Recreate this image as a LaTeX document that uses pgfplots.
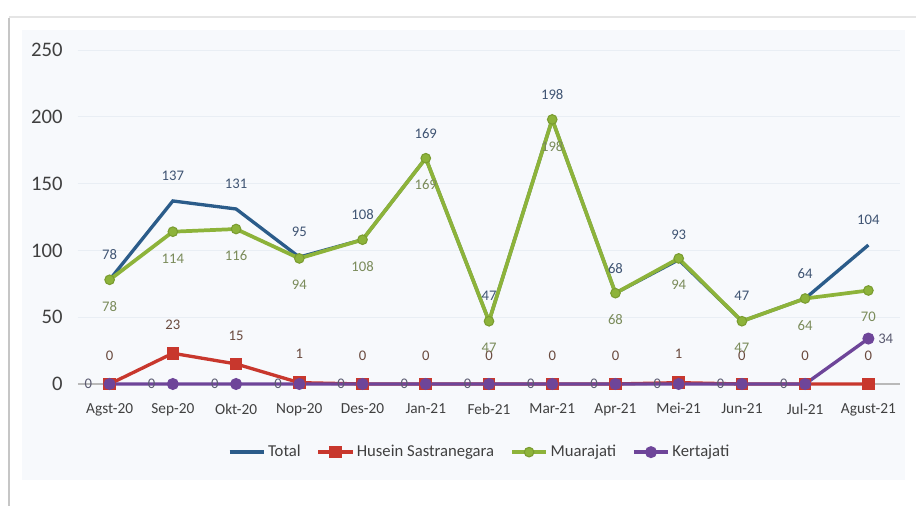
\documentclass[border=0pt]{standalone}
\usepackage{fontspec}
\setmainfont{Carlito}
\usepackage{pgfplots}
\pgfplotsset{compat=1.18}
\definecolor{cTotal}{HTML}{2B5C8A}
\definecolor{cHus}{HTML}{C8372D}
\definecolor{cMua}{HTML}{8DB33A}
\definecolor{cMuaD}{HTML}{7A9C30}
\definecolor{cKer}{HTML}{6E4599}
\definecolor{bgc}{HTML}{F7F9FC}
\definecolor{gridc}{HTML}{E9EEF4}
\definecolor{txt}{HTML}{404040}
\definecolor{lTotal}{HTML}{3F5473}
\definecolor{lHus}{HTML}{6A4A3E}
\definecolor{lMua}{HTML}{7A8B5A}
\definecolor{lKer}{HTML}{5A5A70}
\begin{document}
\begin{tikzpicture}
\path[use as bounding box] (0,0) rectangle (687pt,379.5pt);
\fill[white] (0,0) rectangle (687pt,379.5pt);
\fill[bgc] (16.5pt,19.5pt) rectangle (679pt,357pt);
\draw[gray!45, line width=1pt] (6.75pt,0) -- (6.75pt,366pt);
\draw[gray!20, line width=1.5pt] (6.75pt,367pt) -- (687pt,367pt);
\begin{axis}[
  at={(58.5pt,91.5pt)}, anchor=south west,
  scale only axis, width=616.5pt, height=250.5pt,
  xmin=-0.5, xmax=12.5, ymin=0, ymax=250,
  xtick={0,...,12},
  xticklabels={Agst-20,Sep-20,Okt-20,Nop-20,Des-20,Jan-21,Feb-21,Mar-21,Apr-21,Mei-21,Jun-21,Jul-21,Agust-21},
  ytick={0,50,...,250},
  axis line style={draw=none}, tick style={draw=none},
  ymajorgrids, grid style={color=gridc, line width=0.6pt},
  extra y ticks={0}, extra y tick labels={},
  extra y tick style={grid=major, grid style={color=gray!55, line width=0.8pt}},
  clip=false,
  /pgf/number format/assume math mode=true,
  xticklabel style={font=\fontsize{11.5}{12}\selectfont, color=txt, yshift=-11pt},
  yticklabel style={font=\fontsize{15.5}{16}\selectfont, color=txt, xshift=-8pt},
  legend columns=4,
  legend style={at={(0.489,-0.204)}, anchor=center, draw=none, fill=none,
    font=\fontsize{12.5}{14}\selectfont, text=txt,
    /tikz/every even column/.append style={column sep=10pt}},
  legend image code/.code={\draw[mark repeat=2,mark phase=2,#1] plot coordinates {(0cm,0cm) (0.45cm,0cm) (0.9cm,0cm)};},
  nodes near coords,
  nodes near coords style={font=\fontsize{11}{12}\selectfont, anchor=center},
]
% Total
\addplot[color=cTotal, line width=2.5pt, no markers,
  every node near coord/.append style={color=lTotal, yshift=18.75pt}]
  coordinates {(0,78) (1,137) (2,131) (3,95) (4,108) (5,169) (6,47) (7,198) (8,68) (9,93) (10,47) (11,64) (12,104)};
\addlegendentry{Total}
% Husein Sastranegara
\addplot[color=cHus, line width=2.5pt, mark=square*, mark size=3.5pt,
  every node near coord/.append style={color=lHus, yshift=21.4pt}]
  coordinates {(0,0) (1,23) (2,15) (3,1) (4,0) (5,0) (6,0) (7,0) (8,0) (9,1) (10,0) (11,0) (12,0)};
\addlegendentry{Husein Sastranegara}
% Muarajati
\addplot[color=cMua, line width=2.8pt, mark=*, mark size=3.6pt,
  mark options={draw=cMuaD, fill=cMua, line width=0.8pt},
  every node near coord/.append style={color=lMua, yshift=-20pt}]
  coordinates {(0,78) (1,114) (2,116) (3,94) (4,108) (5,169) (6,47) (7,198) (8,68) (9,94) (10,47) (11,64) (12,70)};
\addlegendentry{Muarajati}
% Kertajati
\addplot[color=cKer, line width=2.5pt, mark=*, mark size=3.2pt,
  visualization depends on={\thisrow{dx} \as \dx},
  every node near coord/.append style={color=lKer, xshift=\dx pt}]
  table[x=x, y=y] {
x y dx
0 0 -16
1 0 -16
2 0 -16
3 0 -16
4 0 -16
5 0 -16
6 0 -16
7 0 -16
8 0 -16
9 0 -16
10 0 -16
11 0 -16
12 34 13
};
\addlegendentry{Kertajati}
\end{axis}
\end{tikzpicture}
\end{document}
